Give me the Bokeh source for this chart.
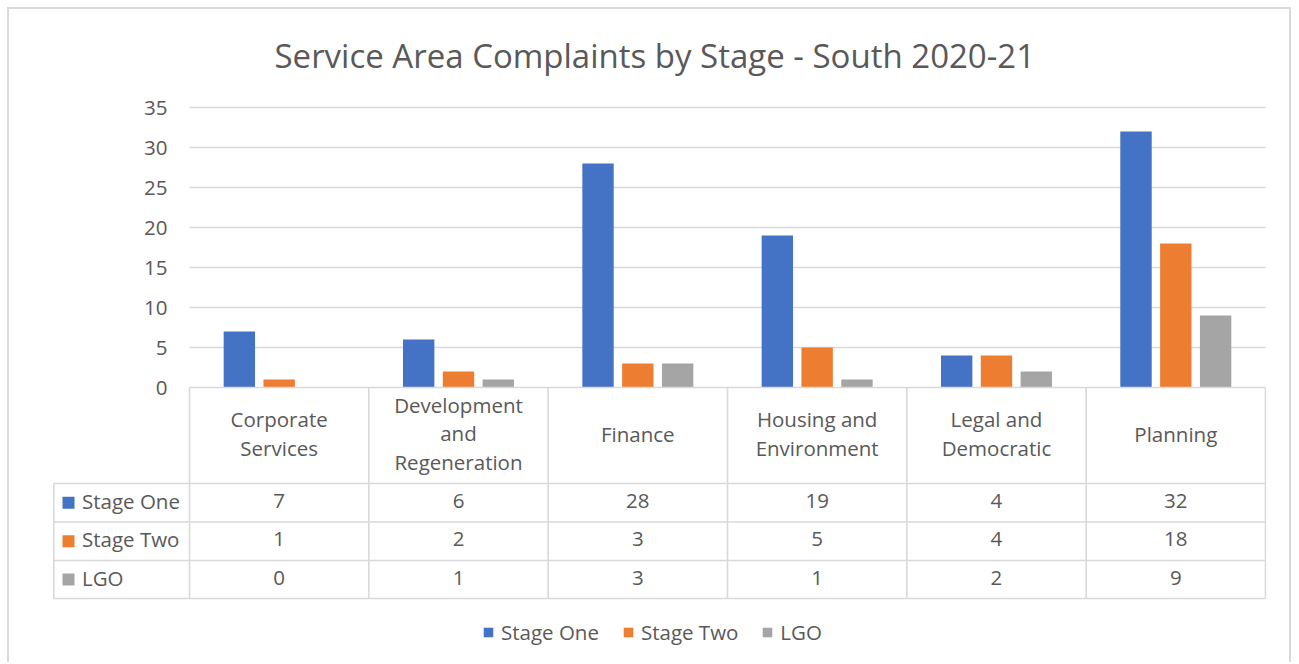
from bokeh.plotting import figure
from bokeh.models import Range1d, LinearAxis, FixedTicker, ColumnDataSource, Legend, LegendItem
from bokeh.transform import dodge
from bokeh.core.properties import value
from bokeh.embed import file_html
from bokeh.resources import INLINE

# ---------------- data ----------------
title = "Service Area Complaints by Stage - South 2020-21"
categories = ["Corporate Services", "Development and Regeneration", "Finance",
              "Housing and Environment", "Legal and Democratic", "Planning"]
category_labels = ["Corporate\nServices", "Development\nand\nRegeneration", "Finance",
                   "Housing and\nEnvironment", "Legal and\nDemocratic", "Planning"]
series = ["Stage One", "Stage Two", "LGO"]
stage_one = [7, 6, 28, 19, 4, 32]
stage_two = [1, 2, 3, 5, 4, 18]
lgo = [0, 1, 3, 1, 2, 9]
y_ticks = [0, 5, 10, 15, 20, 25, 30, 35]
colors = ["#4472C4", "#ED7D31", "#A5A5A5"]

# ---------------- style / layout ----------------
FONT = "Open Sans"
TXT = "#595959"
LINE = "#d9d9d9"
FS = "20.5px"

W, H = 1284, 655
OX, OY = 9, 9                        # canvas origin on page
FL, FR, FT, FB = 52, 1266, 97, 664   # frame edges on page
CAT0 = 189.0                         # left edge of first category (page px)
CAT_PX = 179.33                      # px per category
ZERO_Y = 387.0                       # page y of value 0
UNIT_PY = 8.0                        # px per value unit
TEXT_NUDGE = 2.0 / UNIT_PY           # small upward nudge of table text


def xd(px):
    return -0.5 + (px - CAT0) / CAT_PX


def yd(py):
    return (ZERO_Y - py) / UNIT_PY


row_edges_px = [483, 521.5, 560, 598]
row_edges = [yd(v) for v in row_edges_px]
row_centers = [(row_edges[i] + row_edges[i + 1]) / 2 for i in range(3)]
text_rows = [c + TEXT_NUDGE for c in row_centers]
label_center = yd((ZERO_Y + row_edges_px[0]) / 2) + TEXT_NUDGE

p = figure(width=W, height=H, output_backend="svg", toolbar_location=None,
           x_range=Range1d(xd(FL), xd(FR)), y_range=Range1d(yd(FB), yd(FT)),
           x_axis_location=None, y_axis_location=None,
           min_border_left=FL - OX, min_border_right=OX + W - FR,
           min_border_top=FT - OY, min_border_bottom=OY + H - FB,
           outline_line_color=None, background_fill_color="white",
           border_fill_color="white",
           styles={"margin-left": "7px", "margin-top": "7px",
                   "border-top": "2px solid #d9d9d9",
                   "border-left": "2px solid #d9d9d9",
                   "border-right": "2px solid #d9d9d9"})
p.grid.visible = False

# title
p.title.text = title
p.title.align = "left"
p.title.offset = 222
p.title.text_font = FONT
p.title.text_font_size = "33px"
p.title.text_font_style = "normal"
p.title.text_color = TXT
p.title.standoff = 40

n = len(categories)
xs = list(range(n))
left_edge, right_edge = -0.5, n - 0.5

# gridlines
grid_y = [t for t in y_ticks if t > 0]
p.segment(x0=[left_edge] * len(grid_y), x1=[right_edge] * len(grid_y),
          y0=grid_y, y1=grid_y, line_color=LINE, line_width=1.3)

# bars
src = ColumnDataSource(dict(x=xs, s1=stage_one, s2=stage_two, s3=lgo))
offsets = [-0.222, 0.0, 0.222]
bar_renderers = []
for key, off, col in zip(["s1", "s2", "s3"], offsets, colors):
    r = p.vbar(x=dodge("x", off), top=key, bottom=0, width=0.175, source=src,
               fill_color=col, line_color=None)
    bar_renderers.append(r)

# table lines
p.segment(x0=[left_edge], x1=[right_edge], y0=[0], y1=[0], line_color=LINE, line_width=1.6)
p.segment(x0=[xd(53.3)] * len(row_edges), x1=[right_edge] * len(row_edges),
          y0=row_edges, y1=row_edges, line_color=LINE, line_width=1.6)
vx = [left_edge + k for k in range(n + 1)]
p.segment(x0=vx, x1=vx, y0=[0] * len(vx), y1=[row_edges[-1]] * len(vx),
          line_color=LINE, line_width=1.6)
p.segment(x0=[xd(53.3)], x1=[xd(53.3)], y0=[row_edges[0]], y1=[row_edges[-1]],
          line_color=LINE, line_width=1.6)

# category labels
p.text(x=xs, y=[label_center] * n, text=category_labels, text_align="center",
       text_baseline="middle", text_font=value(FONT), text_font_size=FS,
       text_color=TXT, text_line_height=1.02)

# table values
for vals, yc in zip([stage_one, stage_two, lgo], text_rows):
    p.text(x=xs, y=[yc] * n, text=[str(v) for v in vals], text_align="center",
           text_baseline="middle", text_font=value(FONT), text_font_size=FS,
           text_color=TXT)

# row headers
p.scatter(x=[xd(68)] * 3, y=row_centers, marker="square", size=12,
          fill_color=colors, line_color=None)
p.text(x=[xd(81.5)] * 3, y=text_rows, text=series, text_align="left",
       text_baseline="middle", text_font=value(FONT), text_font_size=FS,
       text_color=TXT)

# y axis
yaxis = LinearAxis(ticker=FixedTicker(ticks=y_ticks), fixed_location=-0.5,
                   axis_line_color=None, major_tick_line_color=None,
                   minor_tick_line_color=None, major_tick_out=0, major_tick_in=0,
                   major_label_standoff=22, major_label_text_font=FONT,
                   major_label_text_font_size=FS, major_label_text_color=TXT)
p.add_layout(yaxis, "left")

# legend
legend = Legend(items=[LegendItem(label=s, renderers=[r]) for s, r in zip(series, bar_renderers)],
                orientation="horizontal", location=(430, 18), glyph_width=12,
                glyph_height=12, label_standoff=7, spacing=23, padding=0, margin=0,
                border_line_color=None, background_fill_alpha=0,
                label_text_font=FONT, label_text_font_size=FS, label_text_color=TXT)
p.add_layout(legend)

open("out.html", "w").write(file_html(p, INLINE))
